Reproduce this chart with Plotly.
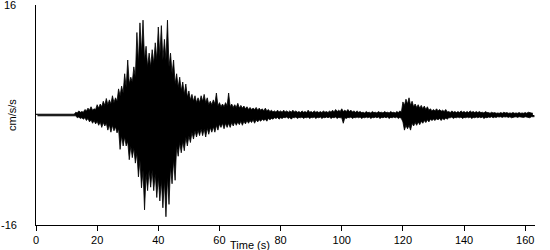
import plotly.graph_objects as go

# Ground acceleration trace (cm/s/s), one reading per second.
# upper: spike peaks at t = i ; upper_body: solid-body level between spikes at t = i + 0.5
# lower: trough peaks at t = i + 0.5 ; lower_body: solid-body level at t = i + 1
upper = [
    0.12, 0.12, 0.12, 0.12, 0.12, 0.12, 0.12, 0.12, 0.12, 0.12,   # 0-9
    0.12, 0.12, 0.12, 0.4, 0.6, 0.5, 0.8, 1.0, 1.2, 0.9,          # 10-19
    1.5, 1.6, 2.0, 2.4, 2.2, 2.8, 2.5, 3.8, 4.2, 6.0,             # 20-29
    8.0, 5.5, 7.0, 12.0, 13.4, 13.8, 10.0, 9.0, 9.5, 10.5,        # 30-39
    12.8, 13.0, 11.0, 13.8, 9.0, 8.0, 6.0, 5.5, 4.8, 4.5,         # 40-49
    3.5, 3.0, 2.8, 2.5, 2.8, 3.0, 2.5, 2.0, 2.2, 3.2,             # 50-59
    1.8, 1.6, 1.8, 3.2, 1.6, 1.5, 1.7, 1.4, 1.3, 1.2,             # 60-69
    1.1, 1.0, 1.1, 1.0, 0.9, 1.0, 0.8, 0.7, 0.6, 0.7,             # 70-79
    0.6, 0.7, 0.6, 0.6, 0.7, 0.6, 0.5, 0.6, 0.5, 0.7,             # 80-89
    0.5, 0.6, 0.5, 0.5, 0.6, 0.5, 0.6, 0.7, 0.8, 0.7,             # 90-99
    0.9, 0.7, 0.8, 0.7, 0.6, 0.6, 0.5, 0.4, 0.5, 0.4,             # 100-109
    0.5, 0.4, 0.5, 0.4, 0.5, 0.4, 0.5, 0.4, 0.5, 0.6,             # 110-119
    1.9, 2.3, 2.5, 2.0, 1.6, 1.5, 1.4, 1.3, 1.2, 0.9,             # 120-129
    0.8, 0.9, 0.8, 0.7, 0.8, 0.5, 0.6, 0.5, 0.5, 0.6,             # 130-139
    0.5, 0.5, 0.6, 0.5, 0.5, 0.5, 0.4, 0.5, 0.35, 0.4,            # 140-149
    0.35, 0.3, 0.35, 0.4, 0.35, 0.3, 0.35, 0.3, 0.35, 0.3,        # 150-159
    0.35, 0.4, 0.3,                                               # 160-162
]
upper_body = [
    0.12, 0.12, 0.12, 0.12, 0.12, 0.12, 0.12, 0.12, 0.12, 0.12,
    0.12, 0.12, 0.12, 0.3, 0.4, 0.4, 0.6, 0.7, 0.7, 0.8,
    1.0, 1.2, 1.4, 1.5, 1.6, 1.8, 2.0, 2.8, 3.2, 4.0,
    4.5, 4.8, 5.5, 7.5, 9.0, 8.0, 7.0, 7.0, 7.5, 8.0,
    8.5, 8.0, 8.0, 7.0, 6.0, 4.5, 4.0, 3.5, 3.0, 2.6,
    2.2, 2.0, 1.8, 1.8, 2.0, 1.8, 1.5, 1.5, 1.6, 1.3,
    1.2, 1.2, 1.3, 1.2, 1.1, 1.1, 1.0, 1.0, 0.9, 0.8,
    0.8, 0.8, 0.7, 0.7, 0.6, 0.6, 0.5, 0.45, 0.4, 0.45,
    0.4, 0.45, 0.4, 0.4, 0.45, 0.4, 0.35, 0.4, 0.35, 0.4,
    0.35, 0.4, 0.35, 0.35, 0.4, 0.35, 0.4, 0.45, 0.5, 0.5,
    0.5, 0.5, 0.5, 0.45, 0.4, 0.4, 0.35, 0.3, 0.35, 0.3,
    0.35, 0.3, 0.35, 0.3, 0.35, 0.3, 0.35, 0.3, 0.35, 0.4,
    1.4, 1.6, 1.4, 1.2, 1.1, 1.0, 0.9, 0.8, 0.7, 0.6,
    0.6, 0.6, 0.55, 0.5, 0.45, 0.35, 0.4, 0.35, 0.35, 0.4,
    0.35, 0.35, 0.4, 0.35, 0.35, 0.35, 0.3, 0.35, 0.25, 0.3,
    0.25, 0.25, 0.25, 0.3, 0.25, 0.25, 0.25, 0.25, 0.25, 0.25,
    0.25, 0.3, 0.25,
]
lower = [
    -0.12, -0.12, -0.12, -0.12, -0.12, -0.12, -0.12, -0.12, -0.12, -0.12,
    -0.12, -0.12, -0.12, -0.4, -0.5, -0.6, -0.8, -1.0, -1.2, -1.3,
    -1.5, -1.8, -1.6, -2.2, -2.5, -2.3, -2.6, -5.0, -4.5, -4.5,
    -6.5, -6.2, -7.0, -9.0, -10.6, -13.8, -11.0, -10.5, -11.0, -12.0,
    -12.5, -13.5, -14.8, -13.0, -10.0, -9.5, -6.0, -5.5, -5.2, -4.5,
    -4.0, -3.5, -3.2, -3.0, -3.0, -3.2, -2.8, -2.5, -2.5, -2.2,
    -1.8, -2.0, -1.8, -1.8, -1.6, -1.5, -1.4, -1.5, -1.3, -1.2,
    -1.1, -1.2, -1.0, -0.9, -0.8, -0.9, -0.7, -0.6, -0.5, -0.6,
    -0.5, -0.4, -0.5, -0.6, -0.4, -0.5, -0.4, -0.5, -0.4, -0.5,
    -0.4, -0.5, -0.4, -0.5, -0.4, -0.4, -0.5, -0.4, -0.5, -0.4,
    -1.2, -0.5, -0.4, -0.5, -0.4, -0.4, -0.5, -0.4, -0.4, -0.5,
    -0.4, -0.4, -0.5, -0.4, -0.4, -0.5, -0.4, -0.4, -0.5, -0.5,
    -2.2, -2.0, -2.2, -1.6, -1.5, -1.4, -1.2, -1.1, -1.0, -0.8,
    -0.8, -0.7, -0.8, -0.7, -0.6, -0.4, -0.5, -0.4, -0.4, -0.5,
    -0.4, -0.4, -0.5, -0.4, -0.4, -0.4, -0.5, -0.4, -0.35, -0.4,
    -0.35, -0.3, -0.35, -0.3, -0.35, -0.4, -0.3, -0.35, -0.3, -0.35,
    -0.3, -0.4, -0.3,
]
lower_body = [
    -0.12, -0.12, -0.12, -0.12, -0.12, -0.12, -0.12, -0.12, -0.12, -0.12,
    -0.12, -0.12, -0.12, -0.3, -0.4, -0.4, -0.5, -0.7, -0.8, -0.9,
    -1.0, -1.1, -1.2, -1.4, -1.5, -1.7, -2.0, -3.0, -3.2, -3.8,
    -4.5, -4.8, -5.5, -6.5, -8.0, -8.5, -8.0, -8.0, -8.5, -9.0,
    -9.5, -9.5, -9.0, -7.5, -6.5, -4.5, -4.0, -3.8, -3.2, -3.0,
    -2.5, -2.3, -2.2, -2.0, -2.0, -1.9, -1.8, -1.7, -1.5, -1.3,
    -1.2, -1.2, -1.2, -1.1, -1.0, -1.0, -0.9, -0.9, -0.8, -0.8,
    -0.7, -0.7, -0.7, -0.6, -0.6, -0.5, -0.5, -0.4, -0.35, -0.4,
    -0.35, -0.3, -0.35, -0.35, -0.3, -0.35, -0.3, -0.35, -0.3, -0.35,
    -0.3, -0.35, -0.3, -0.35, -0.3, -0.3, -0.35, -0.3, -0.35, -0.4,
    -0.4, -0.35, -0.3, -0.35, -0.3, -0.3, -0.35, -0.3, -0.3, -0.35,
    -0.3, -0.3, -0.35, -0.3, -0.3, -0.35, -0.3, -0.3, -0.35, -1.0,
    -1.5, -1.5, -1.2, -1.1, -1.0, -0.9, -0.8, -0.7, -0.6, -0.6,
    -0.55, -0.5, -0.5, -0.45, -0.4, -0.3, -0.35, -0.3, -0.3, -0.35,
    -0.3, -0.3, -0.35, -0.3, -0.3, -0.3, -0.35, -0.3, -0.25, -0.3,
    -0.25, -0.25, -0.25, -0.25, -0.25, -0.3, -0.25, -0.25, -0.25, -0.25,
    -0.25, -0.25, -0.25,
]
x_ticks = [0, 20, 40, 60, 80, 100, 120, 140, 160]
y_labels = ["16", "-16"]

# interleave spike peaks with the body level between them
tu, vu, tl, vl = [], [], [], []
for i in range(len(upper)):
    tu += [i, i + 0.5]
    vu += [upper[i], upper_body[i]]
    tl += [i + 0.5, i + 1]
    vl += [lower[i], lower_body[i]]

font = "Liberation Sans, Arial, sans-serif"
fig = go.Figure()
for xs, ys in ((tu, vu), (tl, vl)):
    fig.add_trace(go.Scatter(x=xs, y=ys, mode="lines",
                             line=dict(color="black", width=0.8), fill="tozeroy",
                             fillcolor="black", hoverinfo="skip", showlegend=False))

fig.update_layout(
    width=550, height=250,
    margin=dict(l=36, r=15, t=5, b=25),
    paper_bgcolor="white", plot_bgcolor="white",
    font=dict(family=font, size=11, color="black"),
    xaxis=dict(range=[0, 163.2], tickvals=x_ticks, ticks="outside", ticklen=5,
               tickwidth=1, tickcolor="black", showline=True, linecolor="black",
               linewidth=1, showgrid=False, zeroline=False,
               tickfont=dict(size=11, family=font), fixedrange=True),
    yaxis=dict(range=[-16, 16], showticklabels=False, ticks="", showline=True,
               linecolor="black", linewidth=1, showgrid=False, zeroline=False,
               fixedrange=True),
    annotations=[
        dict(x=0, y=16, xref="paper", yref="y", text=y_labels[0], showarrow=False,
             xanchor="right", yanchor="middle", xshift=-18, font=dict(size=11)),
        dict(x=0, y=-16, xref="paper", yref="y", text=y_labels[1], showarrow=False,
             xanchor="right", yanchor="middle", xshift=-17, font=dict(size=11)),
        dict(x=0, y=0, xref="paper", yref="y", text="cm/s/s", showarrow=False,
             textangle=-90, xanchor="center", yanchor="middle", xshift=-24,
             font=dict(size=11)),
        dict(x=0.429, y=0, xref="paper", yref="paper", text="Time (s)", showarrow=False,
             xanchor="center", yanchor="middle", yshift=-20, font=dict(size=11)),
    ],
)
fig.write_html("out.html")
